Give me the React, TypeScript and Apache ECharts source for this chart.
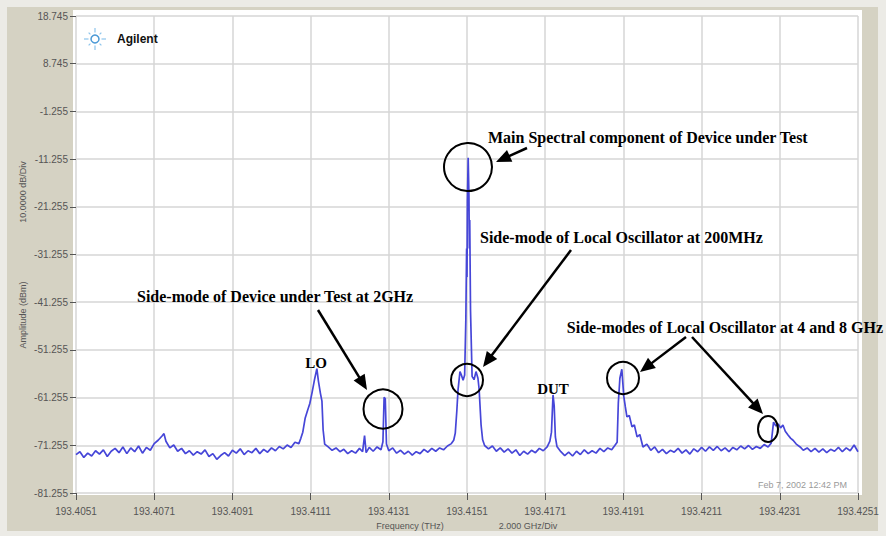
import React, { useEffect, useRef } from "react";
import * as echarts from "echarts";

// Frequency axis: offsets in GHz from 193.4051 THz, tick every 2 GHz
const startTHz = 193.4051;
const spanGHz = 20;
const divGHz = 2;
// Amplitude axis
const bottomDbm = -81.255;
const dbPerDiv = 10;
const divisions = 10;

// Trace: [offset GHz, amplitude dBm]
const trace: [number, number][] = [
  [0.0, -73.2], [0.1, -72.6], [0.2, -73.8], [0.3, -72.9], [0.4, -73.5], [0.5, -72.4], [0.6, -73.1], [0.7, -72.2],
  [0.8, -73.6], [0.9, -72.5], [1.0, -71.9], [1.1, -72.8], [1.2, -71.6], [1.3, -73.0], [1.4, -71.8], [1.5, -72.6],
  [1.6, -71.4], [1.7, -72.9], [1.8, -71.7], [1.9, -72.3], [2.0, -70.9], [2.1, -70.2], [2.2, -69.3], [2.25, -68.8],
  [2.3, -70.4], [2.4, -71.8], [2.5, -71.2], [2.6, -72.5], [2.7, -71.9], [2.8, -73.0], [2.9, -72.4], [3.0, -73.3],
  [3.1, -72.6], [3.2, -73.1], [3.3, -72.2], [3.4, -73.6], [3.5, -73.0], [3.6, -74.2], [3.7, -73.4], [3.8, -72.8],
  [3.9, -73.5], [4.0, -72.3], [4.1, -72.9], [4.2, -72.0], [4.3, -73.2], [4.4, -72.4], [4.5, -72.8], [4.6, -71.9],
  [4.7, -73.0], [4.8, -72.1], [4.9, -72.7], [5.0, -71.8], [5.1, -72.4], [5.2, -71.5], [5.3, -72.0], [5.4, -71.2],
  [5.5, -71.7], [5.6, -70.6], [5.7, -70.9], [5.75, -69.8], [5.8, -68.5], [5.86, -65.6], [5.92, -64.0], [5.98, -62.5],
  [6.04, -60.1], [6.1, -57.5], [6.16, -55.2], [6.2, -57.8], [6.25, -60.3], [6.29, -62.0], [6.32, -68.0], [6.36, -71.0],
  [6.45, -71.6], [6.55, -72.3], [6.65, -71.8], [6.75, -72.6], [6.85, -72.1], [6.95, -73.0], [7.05, -72.4], [7.15, -72.9],
  [7.25, -71.9], [7.33, -72.6], [7.38, -69.2], [7.42, -72.8], [7.5, -71.7], [7.6, -72.5], [7.7, -71.6], [7.8, -72.2],
  [7.85, -70.5], [7.88, -61.2], [7.91, -61.5], [7.94, -71.0], [8.0, -72.4], [8.1, -71.8], [8.2, -72.9], [8.3, -72.3],
  [8.4, -73.1], [8.5, -72.5], [8.6, -73.3], [8.7, -72.6], [8.8, -73.0], [8.9, -72.1], [9.0, -72.7], [9.1, -71.9],
  [9.2, -72.5], [9.3, -71.8], [9.4, -72.2], [9.5, -71.4], [9.6, -70.9], [9.66, -70.2], [9.7, -68.7], [9.74, -64.0],
  [9.77, -59.7], [9.82, -55.8], [9.86, -56.6], [9.9, -57.6], [9.94, -56.5], [9.97, -45.0], [9.99, -30.0], [10.0, -36.0],
  [10.01, -20.0], [10.03, -11.0], [10.05, -19.0], [10.06, -30.0], [10.07, -24.0], [10.09, -43.0], [10.13, -56.8], [10.18, -57.5],
  [10.23, -55.8], [10.28, -57.2], [10.31, -59.5], [10.36, -67.0],
  [10.4, -70.1], [10.45, -71.3], [10.55, -72.0], [10.65, -71.4], [10.75, -72.5], [10.85, -71.8], [10.95, -72.7], [11.05, -72.0],
  [11.15, -72.9], [11.25, -72.2], [11.35, -73.4], [11.45, -72.5], [11.55, -73.1], [11.65, -72.3], [11.75, -72.8], [11.85, -71.9],
  [11.95, -72.4], [12.05, -71.6], [12.12, -70.4], [12.16, -68.5], [12.2, -60.7], [12.23, -63.0], [12.26, -69.5], [12.3, -71.5],
  [12.4, -72.6], [12.5, -73.4], [12.6, -72.7], [12.7, -73.5], [12.8, -72.5], [12.9, -73.2], [13.0, -72.2], [13.1, -73.0],
  [13.2, -72.4], [13.3, -72.9], [13.4, -71.9], [13.5, -72.6], [13.6, -71.8], [13.7, -72.2], [13.78, -71.3], [13.84, -70.6],
  [13.87, -62.4], [13.91, -57.2], [13.96, -55.3], [14.01, -61.0], [14.05, -63.2], [14.09, -65.3], [14.15, -65.0], [14.22, -67.4],
  [14.28, -67.0], [14.35, -69.5], [14.42, -69.0], [14.5, -71.6], [14.6, -71.0], [14.7, -72.3], [14.8, -71.6], [14.9, -72.8],
  [15.0, -72.1], [15.1, -73.0], [15.2, -72.3], [15.3, -72.7], [15.4, -71.9], [15.5, -72.9], [15.6, -72.2], [15.7, -73.1],
  [15.8, -72.0], [15.9, -72.6], [16.0, -71.7], [16.1, -72.5], [16.2, -71.6], [16.3, -72.3], [16.4, -71.5], [16.5, -72.4],
  [16.6, -71.8], [16.7, -72.6], [16.8, -71.7], [16.9, -72.2], [17.0, -71.4], [17.1, -72.0], [17.2, -71.3], [17.3, -72.1],
  [17.4, -71.5], [17.5, -71.9], [17.6, -71.1], [17.7, -71.6], [17.78, -70.8], [17.84, -66.4], [17.9, -67.2], [17.96, -66.8],
  [18.02, -67.6], [18.08, -67.0], [18.14, -68.3], [18.21, -69.1], [18.28, -69.8], [18.34, -70.2], [18.42, -71.0], [18.52, -71.6],
  [18.6, -72.3], [18.7, -71.8], [18.8, -72.6], [18.9, -71.9], [19.0, -72.7], [19.1, -72.0], [19.2, -72.8], [19.3, -72.1],
  [19.4, -72.5], [19.5, -71.7], [19.6, -72.6], [19.7, -71.8], [19.8, -72.4], [19.9, -71.2], [20.0, -72.6],
];

const annotationTexts = [
  "Main Spectral component of Device under Test",
  "Side-mode of Local Oscillator at 200MHz",
  "Side-mode of Device under Test at 2GHz",
  "Side-modes of Local Oscillator at 4 and 8 GHz",
];
const peakLabels = ["LO", "DUT"];
const timestamp = "Feb 7, 2002 12:42 PM";

const SERIF = '"Liberation Serif", "Times New Roman", serif';
const SANS = '"Liberation Sans", Arial, sans-serif';

function arrow(x1: number, y1: number, x2: number, y2: number) {
  const dx = x2 - x1, dy = y2 - y1;
  const L = Math.hypot(dx, dy);
  const ux = dx / L, uy = dy / L;
  const hl = 15, hw = 6.5;
  const bx = x2 - ux * hl, by = y2 - uy * hl;
  return [
    { type: "line", z: 100, shape: { x1, y1, x2: bx + ux * 2, y2: by + uy * 2 }, style: { stroke: "#000", lineWidth: 2.5 } },
    {
      type: "polygon", z: 100,
      shape: { points: [[x2, y2], [bx - uy * hw, by + ux * hw], [bx + uy * hw, by - ux * hw]] },
      style: { fill: "#000" },
    },
  ];
}

function circle(cx: number, cy: number, r: number) {
  return { type: "circle", z: 100, shape: { cx, cy, r }, style: { fill: "none", stroke: "#000", lineWidth: 2 } };
}

function label(text: string, x: number, y: number, align: string, size: number) {
  return {
    type: "text", z: 100, x, y,
    style: { text, fill: "#000", font: `bold ${size}px ${SERIF}`, textAlign: align, textVerticalAlign: "middle" },
  };
}

function logo(cx: number, cy: number) {
  const els: any[] = [];
  els.push({ type: "circle", z: 50, shape: { cx, cy, r: 4 }, style: { fill: "none", stroke: "#4c9ad6", lineWidth: 1.5 } });
  for (let i = 0; i < 8; i++) {
    const a = (i * Math.PI) / 4;
    const r1 = 6.5, r2 = i % 2 === 0 ? 11 : 9;
    els.push({
      type: "line", z: 50,
      shape: { x1: cx + Math.cos(a) * r1, y1: cy + Math.sin(a) * r1, x2: cx + Math.cos(a) * r2, y2: cy + Math.sin(a) * r2 },
      style: { stroke: "#8cc4ec", lineWidth: 1.2 },
    });
  }
  els.push({
    type: "text", z: 50, x: 117, y: cy,
    style: { text: "Agilent", fill: "#111", font: `bold 12px ${SANS}`, textAlign: "left", textVerticalAlign: "middle" },
  });
  return els;
}

export default function App() {
  const ref = useRef<HTMLDivElement>(null);
  useEffect(() => {
    if (!ref.current) return;
    const chart = echarts.init(ref.current, undefined, { renderer: "svg" });
    const data = trace.map(([g, d]) => [g, d - bottomDbm]);
    const option: any = {
      animation: false,
      backgroundColor: "#ecebe6",
      grid: { left: 76, right: 28, top: 16, bottom: 43, outerBoundsMode: "none" },
      xAxis: {
        type: "value", min: 0, max: spanGHz, interval: divGHz,
        axisLine: { show: false },
        axisTick: { show: true, length: 7, lineStyle: { color: "#555", width: 1 } },
        axisLabel: {
          margin: 13, color: "#555", fontSize: 10, fontFamily: SANS,
          formatter: (v: number) => (startTHz + v / 1000).toFixed(4),
        },
        splitLine: { show: true, lineStyle: { color: "#d6d6d6", width: 1.5 } },
      },
      yAxis: {
        type: "value", min: 0, max: dbPerDiv * divisions, interval: dbPerDiv,
        axisLine: { show: false },
        axisTick: { show: true, length: 6, lineStyle: { color: "#555", width: 1 } },
        axisLabel: {
          margin: 8, color: "#555", fontSize: 10, fontFamily: SANS,
          formatter: (v: number) => (v + bottomDbm).toFixed(3),
        },
        splitLine: { show: true, lineStyle: { color: "#d6d6d6", width: 1.5 } },
      },
      series: [
        {
          type: "line", data, symbol: "none", silent: true,
          lineStyle: { color: "#4646d8", width: 1.7 },
        },
      ],
      graphic: {
        elements: [
          { type: "rect", z: -20, shape: { x: 7, y: 7, width: 871, height: 524 }, style: { fill: "#d5d2c3" } },
          { type: "rect", z: -10, shape: { x: 73, y: 10, width: 789, height: 485 }, style: { fill: "#ffffff" } },
          {
            type: "text", z: 50, x: 23, y: 192, rotation: Math.PI / 2,
            style: { text: "10.0000 dB/Div", fill: "#555", font: `9px ${SANS}`, textAlign: "center", textVerticalAlign: "middle" },
          },
          {
            type: "text", z: 50, x: 23, y: 315, rotation: Math.PI / 2,
            style: { text: "Amplitude (dBm)", fill: "#555", font: `9px ${SANS}`, textAlign: "center", textVerticalAlign: "middle" },
          },
          {
            type: "text", z: 50, x: 410, y: 526,
            style: { text: "Frequency (THz)", fill: "#555", font: `9px ${SANS}`, textAlign: "center", textVerticalAlign: "middle" },
          },
          {
            type: "text", z: 50, x: 528, y: 526,
            style: { text: "2.000 GHz/Div", fill: "#555", font: `9px ${SANS}`, textAlign: "center", textVerticalAlign: "middle" },
          },
          {
            type: "text", z: 50, x: 847, y: 485,
            style: { text: timestamp, fill: "#9a9a9a", font: `9px ${SANS}`, textAlign: "right", textVerticalAlign: "middle" },
          },
          ...logo(95, 39),
          label(annotationTexts[0], 488, 137, "left", 16),
          label(annotationTexts[1], 480, 237, "left", 16),
          label(annotationTexts[2], 137, 296, "left", 16),
          label(annotationTexts[3], 883, 327, "right", 16),
          label(peakLabels[0], 316, 363, "center", 15),
          label(peakLabels[1], 553, 389, "center", 15),
          circle(468, 167, 24),
          circle(467, 380, 16),
          circle(383, 409, 19.5),
          circle(623, 378, 16),
          { type: "ellipse", z: 100, shape: { cx: 768, cy: 429, rx: 10, ry: 13 }, style: { fill: "none", stroke: "#000", lineWidth: 2 } },
          ...arrow(527, 148, 496, 162),
          ...arrow(571, 250, 483, 367),
          ...arrow(318, 310, 367, 390),
          ...arrow(686, 337, 640, 372),
          ...arrow(692, 337, 763, 414),
        ],
      },
    };
    chart.setOption(option);
    return () => chart.dispose();
  }, []);
  return <div ref={ref} style={{ position: "fixed", left: 0, top: 0, width: 886, height: 536 }} />;
}
